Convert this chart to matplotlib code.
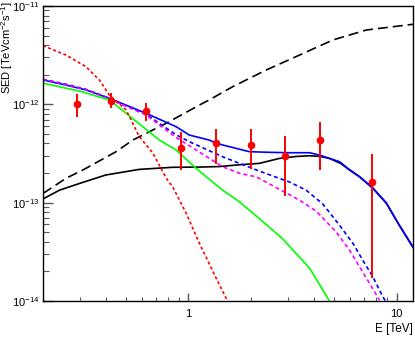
import numpy as np
import matplotlib
matplotlib.use("Agg")
from matplotlib import pyplot as plt
from matplotlib.ticker import LogLocator, NullFormatter

plt.rcParams['font.family'] = ['Liberation Sans', 'DejaVu Sans']
plt.rcParams['mathtext.default'] = 'regular'
plt.rcParams['font.size'] = 8

# measured points
E_pts = np.array([0.29, 0.425, 0.628, 0.923, 1.35, 1.99, 2.92, 4.27, 7.64])
sed_pts = np.array([1.0e-12, 1.09e-12, 8.5e-13, 3.6e-13, 4.0e-13, 3.9e-13, 2.95e-13, 4.36e-13, 1.62e-13])
sed_hi = np.array([1.27e-12, 1.30e-12, 1.03e-12, 5.2e-13, 5.6e-13, 5.6e-13, 4.77e-13, 6.6e-13, 3.13e-13])
sed_lo = np.array([7.4e-13, 9.1e-13, 6.7e-13, 2.14e-13, 2.5e-13, 2.2e-13, 1.17e-13, 2.14e-13, 1.7e-14])

# model curves
E_ldash = [0.2, 0.258, 0.311, 0.449, 0.54, 0.781, 1.13, 1.26, 1.63, 2.36, 3.42, 4.94, 7.16, 12.0]
sed_ldash = [1.24e-13, 1.77e-13, 2.15e-13, 3.3e-13, 4.33e-13, 6.41e-13, 9.84e-13, 1.11e-12,
             1.51e-12, 2.23e-12, 3.17e-12, 4.51e-12, 5.7e-12, 6.52e-12]

E_black = [0.2, 0.24, 0.30, 0.40, 0.58, 0.84, 1.13, 1.41, 1.76, 2.19, 2.74, 3.3, 3.82, 4.3,
           4.76, 5.4, 5.94, 6.64, 7.67, 8.92, 10.3, 12.0]
sed_black = [1.09e-13, 1.34e-13, 1.57e-13, 1.91e-13, 2.18e-13, 2.29e-13, 2.30e-13, 2.33e-13,
             2.43e-13, 2.51e-13, 2.82e-13, 2.95e-13, 3.0e-13, 2.95e-13, 2.82e-13, 2.5e-13,
             2.15e-13, 1.83e-13, 1.41e-13, 9.9e-14, 5.9e-14, 3.5e-14]

E_blue = [0.2, 0.258, 0.322, 0.417, 0.626, 0.873, 1.01, 1.26, 1.36, 1.96, 2.45, 3.06, 3.82,
          4.26, 5.32, 5.94, 6.64, 7.67, 8.92, 10.3, 12.0]
sed_blue = [1.77e-12, 1.57e-12, 1.40e-12, 1.15e-12, 8.1e-13, 5.92e-13, 4.87e-13, 4.33e-13,
            4.01e-13, 3.30e-13, 3.25e-13, 3.22e-13, 3.22e-13, 3.05e-13, 2.61e-13, 2.17e-13,
            1.84e-13, 1.42e-13, 1.0e-13, 5.95e-14, 3.55e-14]

E_bdash = [0.2, 0.258, 0.322, 0.417, 0.626, 0.873, 1.01, 1.46, 2.12, 3.06, 3.68, 4.42, 5.32,
           6.18, 6.88, 7.70, 8.60, 8.85]
sed_bdash = [1.8e-12, 1.6e-12, 1.42e-12, 1.15e-12, 7.9e-13, 4.9e-13, 4.17e-13, 2.93e-13,
             2.15e-13, 1.62e-13, 1.34e-13, 9.7e-14, 5.9e-14, 3.85e-14, 2.6e-14, 1.76e-14,
             1.1e-14, 1.0e-14]

E_mag = [0.2, 0.258, 0.322, 0.417, 0.626, 0.873, 1.05, 1.46, 1.76, 2.12, 2.84, 3.42, 4.11,
         5.12, 5.94, 6.64, 7.42, 8.29]
sed_mag = [1.8e-12, 1.58e-12, 1.40e-12, 1.13e-12, 7.8e-13, 4.6e-13, 3.6e-13, 2.32e-13,
           1.99e-13, 1.83e-13, 1.31e-13, 1.06e-13, 8.2e-14, 5.06e-14, 3.3e-14, 2.23e-14,
           1.51e-14, 1.02e-14]

E_green = [0.2, 0.24, 0.31, 0.347, 0.417, 0.502, 0.725, 0.873, 1.09, 1.22, 1.46, 1.76, 1.96,
           2.19, 2.84, 3.82, 4.76]
sed_green = [1.64e-12, 1.51e-12, 1.34e-12, 1.24e-12, 1.11e-12, 8.1e-13, 4.33e-13, 3.43e-13,
             2.23e-13, 1.83e-13, 1.34e-13, 1.02e-13, 8.4e-14, 6.9e-14, 4.27e-14, 2.16e-14, 1.0e-14]

E_red = [0.2, 0.258, 0.322, 0.373, 0.417, 0.502, 0.581, 0.674, 0.781, 0.84, 0.975, 1.13, 1.36, 1.54]
sed_red = [3.95e-12, 3.17e-12, 2.41e-12, 1.77e-12, 1.24e-12, 8.75e-13, 4.68e-13, 3.2e-13,
           1.78e-13, 1.45e-13, 7.8e-14, 3.85e-14, 1.7e-14, 1.0e-14]

x_ticks = [1, 10]
x_ticklabels = ['1', '10']

fig = plt.figure(figsize=(4.15, 3.37), dpi=100)
ax = fig.add_axes([43 / 415, 1 - 301 / 337, 370 / 415, 295 / 337])

lw = 1.2
ax.plot(E_ldash, sed_ldash, color='black', lw=lw, dashes=(6, 3))
ax.plot(E_black, sed_black, color='black', lw=lw)
ax.plot(E_blue, sed_blue, color='blue', lw=lw)
ax.plot(E_bdash, sed_bdash, color='blue', lw=lw, dashes=(2.4, 1.8))
ax.plot(E_mag, sed_mag, color='magenta', lw=lw, dashes=(2.4, 1.8))
ax.plot(E_green, sed_green, color='#00ff00', lw=lw)
ax.plot(E_red, sed_red, color='red', lw=lw, dashes=(1.8, 1.5))

ax.errorbar(E_pts, sed_pts, yerr=[sed_pts - sed_lo, sed_hi - sed_pts], fmt='o', color='red',
            ms=4.5, elinewidth=1.4, capsize=0, zorder=5)

ax.set_xscale('log')
ax.set_yscale('log')
ax.set_xlim(0.2, 12)
ax.set_ylim(1e-14, 1e-11)

ax.set_xticks(x_ticks, labels=x_ticklabels)
ax.xaxis.set_minor_locator(LogLocator(base=10, subs=np.arange(2, 10)))
ax.xaxis.set_minor_formatter(NullFormatter())
ax.yaxis.set_minor_locator(LogLocator(base=10, subs=np.arange(2, 10)))
ax.yaxis.set_minor_formatter(NullFormatter())

ax.tick_params(axis='both', which='both', direction='in', top=False, right=False, color='0.35',
               labelsize=8)
ax.tick_params(axis='x', which='major', length=5.8, width=1, pad=6)
ax.tick_params(axis='x', which='minor', length=2.6, width=0.8)
ax.tick_params(axis='y', which='major', length=7.2, width=1, pad=2.5)
ax.tick_params(axis='y', which='minor', length=4.2, width=0.8)
for s in ax.spines.values():
    s.set_linewidth(1.0)

ax.set_xlabel('E [TeV]', loc='right', fontsize=8.5)
ax.xaxis.set_label_coords(1.0, -0.075)
fig.text(7 / 415, 1 - 1 / 337, 'SED [TeVcm$^{-2}$s$^{-1}$]', rotation=90, ha='center', va='top',
         fontsize=8)

fig.savefig('out.png', dpi=100)
